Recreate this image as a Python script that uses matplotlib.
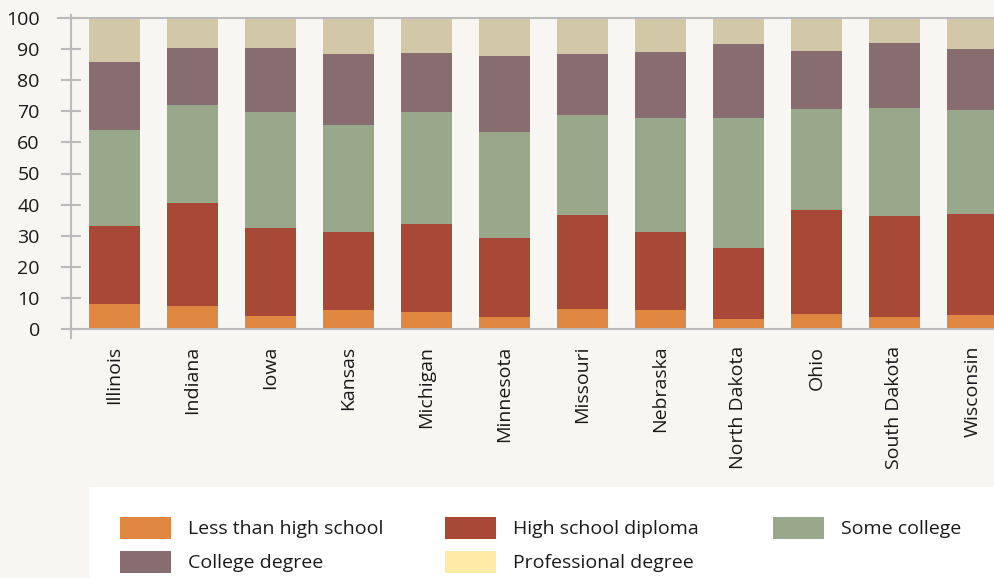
import matplotlib
matplotlib.use('Agg')
import numpy as np
import matplotlib.pyplot as plt
from matplotlib.patches import Patch, Rectangle

states = ['Illinois', 'Indiana', 'Iowa', 'Kansas', 'Michigan', 'Minnesota',
          'Missouri', 'Nebraska', 'North Dakota', 'Ohio', 'South Dakota', 'Wisconsin']

# share of adults (%) by education level
less_than_hs = [8.0, 7.4, 4.2, 6.1, 5.5, 3.9, 6.4, 6.1, 3.2, 4.8, 3.9, 4.5]
hs_diploma = [25.2, 33.2, 28.3, 25.1, 28.3, 25.4, 30.3, 25.1, 22.9, 33.5, 32.5, 32.5]
some_college = [30.9, 31.4, 37.3, 34.5, 36.0, 34.1, 32.2, 36.7, 41.8, 32.5, 34.7, 33.5]
college_degree = [21.8, 18.4, 20.6, 22.8, 19.0, 24.5, 19.6, 21.3, 23.8, 18.7, 20.9, 19.6]
professional = [14.1, 9.6, 9.6, 11.5, 11.2, 12.1, 11.5, 10.8, 8.3, 10.5, 8.0, 9.9]

labels = ['Less than high school', 'High school diploma', 'Some college',
          'College degree', 'Professional degree']
bar_colors = ['#E08741', '#A84836', '#99A88A', '#876D70', '#D2C8A8']
legend_colors = ['#E08741', '#A84836', '#99A88A', '#876D70', '#FFEBA5']

plt.rcParams['font.family'] = ['Open Sans', 'DejaVu Sans']
bg = '#F8F6F2'
grey = '#BBBBBB'
txt = '#1a1a1a'
W, H = 994, 578

fig = plt.figure(figsize=(W / 100, H / 100), dpi=100, facecolor=bg)
ax = fig.add_axes([71 / W, 1 - 329 / H, (W - 71) / W, (329 - 18) / H])
ax.set_facecolor(bg)

x = np.arange(len(states))
series = [less_than_hs, hs_diploma, some_college, college_degree, professional]
bottom = np.zeros(len(states))
for vals, col in zip(series, bar_colors):
    ax.bar(x, vals, width=0.654, bottom=bottom, color=col, linewidth=0)
    bottom += np.array(vals)

ax.set_xlim(-0.558, 11.276)
ax.set_ylim(0, 100)
ax.set_yticks(range(0, 101, 10))
ax.set_xticks(x)
ax.set_xticklabels(states, rotation=90, fontsize=14, color=txt)
ax.tick_params(axis='x', length=0, pad=12)
ax.tick_params(axis='y', direction='inout', length=15, width=1.5, color=grey,
               labelsize=14, labelcolor=txt, pad=15)

for s in ['top', 'right', 'left']:
    ax.spines[s].set_visible(False)
ax.spines['bottom'].set_color(grey)
ax.spines['bottom'].set_linewidth(1.5)

# axis line sticking out above and below, top rule reaching left
ax.plot([0, 0], [-0.03, 1.01], transform=ax.transAxes, color=grey, lw=1.5, clip_on=False)
ax.plot([-13 / (W - 71), 1], [1, 1], transform=ax.transAxes, color=grey, lw=1.5, clip_on=False)

# legend panel
fig.patches.append(Rectangle((89 / W, 0), 1 - 89 / W, (H - 487) / H,
                             transform=fig.transFigure, facecolor='white',
                             edgecolor='none', zorder=0))

handles = [Patch(facecolor=c, edgecolor='none') for c in legend_colors]
cols = [[0, 3], [1, 4], [2]]
xs = [120, 445, 773]
for idx, xp in zip(cols, xs):
    leg = fig.legend([handles[i] for i in idx], [labels[i] for i in idx],
                     loc='upper left', bbox_to_anchor=(xp / W, 1 - 517 / H),
                     frameon=False, fontsize=14, borderpad=0, borderaxespad=0,
                     handlelength=2.62, handleheight=1.35, handletextpad=0.87,
                     labelspacing=0.62)
    for t in leg.get_texts():
        t.set_color(txt)

fig.savefig('out.png', dpi=100, facecolor=bg)
